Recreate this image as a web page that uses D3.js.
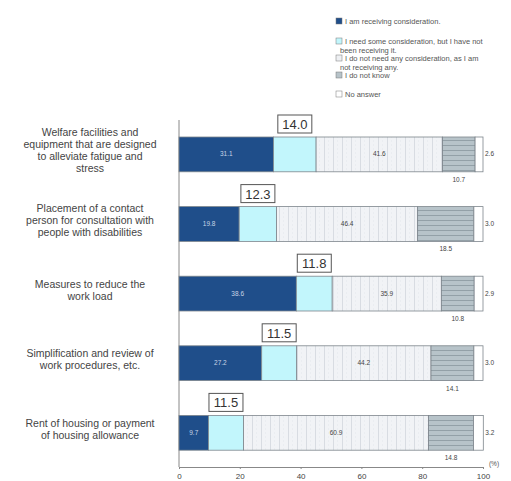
<!DOCTYPE html>
<html>
<head>
<meta charset="utf-8">
<script src="https://cdn.jsdelivr.net/npm/d3@7"></script>
<style>
  body { margin: 0; background: #fff; }
  svg { font-family: "Liberation Sans", Arial, sans-serif; }
</style>
</head>
<body>
<div id="chart"></div>
<script>
// categories (one label per row, already split into lines)
const categories = [
  ["Welfare facilities and", "equipment that are designed", "to alleviate fatigue and", "stress"],
  ["Placement of a contact", "person for consultation with", "people with disabilities"],
  ["Measures to reduce the", "work load"],
  ["Simplification and review of", "work procedures, etc."],
  ["Rent of housing or payment", "of housing allowance"]
];

const seriesNames = [
  "I am receiving consideration.",
  "I need some consideration, but I have not been receiving it.",
  "I do not need any consideration, as I am not receiving any.",
  "I do not know",
  "No answer"
];

const receiving    = [31.1, 19.8, 38.6, 27.2, 9.7];
const needNotGiven = [14.0, 12.3, 11.8, 11.5, 11.5];
const noNeed       = [41.6, 46.4, 35.9, 44.2, 60.9];
const dontKnow     = [10.7, 18.5, 10.8, 14.1, 14.8];
const noAnswer     = [2.6, 3.0, 2.9, 3.0, 3.2];

const xTicks = [0, 20, 40, 60, 80, 100];

const largura = 511, altura = 481;

const svg = d3.select("#chart").append("svg")
  .attr("width", largura)
  .attr("height", altura);

// padrões
const defs = svg.append("defs");
const pv = defs.append("pattern").attr("id", "vlines")
  .attr("patternUnits", "userSpaceOnUse").attr("width", 9).attr("height", 4);
pv.append("rect").attr("width", 9).attr("height", 4).attr("fill", "#f1f3f6");
pv.append("line").attr("x1", 0.5).attr("x2", 0.5).attr("y1", 0).attr("y2", 4)
  .attr("stroke", "#d8dce2").attr("stroke-width", 1);
pv.append("line").attr("x1", 4.5).attr("x2", 4.5).attr("y1", 0).attr("y2", 2)
  .attr("stroke", "#e6e9ee").attr("stroke-width", 0.6);

const ph = defs.append("pattern").attr("id", "hlines")
  .attr("patternUnits", "userSpaceOnUse").attr("width", 4).attr("height", 5);
ph.append("rect").attr("width", 4).attr("height", 5).attr("fill", "#b7c3c9");
ph.append("line").attr("x1", 0).attr("x2", 4).attr("y1", 0.5).attr("y2", 0.5)
  .attr("stroke", "#8a979e").attr("stroke-width", 0.8);

const fills = ["#1f4e8a", "#c2f6fc", "url(#vlines)", "url(#hlines)", "#ffffff"];
const legendFills = ["#1f4e8a", "#c2f6fc", "#eef0f3", "#b7c3c9", "#ffffff"];

const x = d3.scaleLinear().domain([0, 100]).range([179, 483]);
const y = d3.scaleBand().domain(d3.range(categories.length))
  .range([119.6, 467.6]).paddingInner(0.5).paddingOuter(0.25);

// stacked data
const rows = categories.map((c, i) => ({
  i, vals: [receiving[i], needNotGiven[i], noNeed[i], dontKnow[i], noAnswer[i]]
}));
const stack = d3.stack().keys(d3.range(5)).value((d, k) => d.vals[k]);
const series = stack(rows);

// eixo vertical
svg.append("line")
  .attr("x1", 179).attr("x2", 179)
  .attr("y1", 120).attr("y2", 467)
  .attr("stroke", "#888").attr("stroke-width", 1);

// eixo x
const gx = svg.append("g")
  .attr("transform", "translate(0,467)")
  .call(d3.axisBottom(x).tickValues(xTicks).tickSize(2).tickPadding(4).tickSizeOuter(0));
gx.select(".domain").attr("stroke", "#888");
gx.selectAll(".tick line").attr("stroke", "#888");
gx.selectAll(".tick text").attr("fill", "#444").style("font-size", "8px");

svg.append("text")
  .attr("x", 494).attr("y", 466)
  .attr("text-anchor", "middle")
  .style("font-size", "6.5px").attr("fill", "#555")
  .text("(%)");

// barras
series.forEach((s, k) => {
  svg.append("g").selectAll("rect")
    .data(s)
    .join("rect")
    .attr("x", d => x(d[0]))
    .attr("y", d => y(d.data.i))
    .attr("width", d => x(d[1]) - x(d[0]))
    .attr("height", y.bandwidth())
    .attr("fill", fills[k])
    .attr("stroke", "#7d858c")
    .attr("stroke-width", 0.8);
});

// rótulos
const fmt = d3.format(".1f");
// dark segment (white text)
svg.append("g").selectAll("text")
  .data(series[0])
  .join("text")
  .attr("x", d => (x(d[0]) + x(d[1])) / 2)
  .attr("y", d => y(d.data.i) + y.bandwidth() / 2 + 2)
  .attr("text-anchor", "middle")
  .style("font-size", "6.5px").attr("fill", "#c8d4e6")
  .text(d => fmt(d[1] - d[0]));

// dotted segment
svg.append("g").selectAll("text")
  .data(series[2])
  .join("text")
  .attr("x", d => (x(d[0]) + x(d[1])) / 2)
  .attr("y", d => y(d.data.i) + y.bandwidth() / 2 + 2)
  .attr("text-anchor", "middle")
  .style("font-size", "6.5px").attr("fill", "#444")
  .text(d => fmt(d[1] - d[0]));

// grey segment, below
svg.append("g").selectAll("text")
  .data(series[3])
  .join("text")
  .attr("x", d => (x(d[0]) + x(d[1])) / 2)
  .attr("y", d => y(d.data.i) + y.bandwidth() + 10)
  .attr("text-anchor", "middle")
  .style("font-size", "6.5px").attr("fill", "#444")
  .text(d => fmt(d[1] - d[0]));

// no answer, right
svg.append("g").selectAll("text")
  .data(series[4])
  .join("text")
  .attr("x", d => x(d[1]) + 2)
  .attr("y", d => y(d.data.i) + y.bandwidth() / 2 + 2)
  .attr("text-anchor", "start")
  .style("font-size", "6.5px").attr("fill", "#444")
  .text(d => fmt(d[1] - d[0]));

// boxed values above the cyan segment
const boxes = svg.append("g").selectAll("g")
  .data(series[1])
  .join("g")
  .attr("transform", d => `translate(${(x(d[0]) + x(d[1])) / 2},${y(d.data.i) - 13})`);
boxes.append("rect")
  .attr("x", -17).attr("y", -9)
  .attr("width", 34).attr("height", 18)
  .attr("fill", "#fff").attr("stroke", "#555").attr("stroke-width", 1);
boxes.append("text")
  .attr("text-anchor", "middle")
  .attr("y", 5)
  .style("font-size", "13px").attr("fill", "#333")
  .text(d => fmt(d[1] - d[0]));

// nomes das categorias
const labels = svg.append("g").selectAll("text")
  .data(categories)
  .join("text")
  .attr("text-anchor", "middle")
  .style("font-size", "10.5px").attr("fill", "#444")
  .attr("transform", (d, i) => `translate(90,${y(i) + y.bandwidth() / 2 - 4 - (d.length - 1) * 6 + 4})`);
labels.selectAll("tspan")
  .data(d => d)
  .join("tspan")
  .attr("x", 0)
  .attr("dy", (d, j) => j === 0 ? 0 : 12)
  .text(d => d);

// legenda
const legendLines = [
  [seriesNames[0]],
  ["I need some consideration, but I have not", "been receiving it."],
  ["I do not need any consideration, as I am", "not receiving any."],
  [seriesNames[3]],
  [seriesNames[4]]
];
const legendY = [24, 44, 61, 78, 97];
const lg = svg.append("g").selectAll("g")
  .data(legendLines)
  .join("g")
  .attr("transform", (d, i) => `translate(336,${legendY[i]})`);
lg.append("rect")
  .attr("x", 0).attr("y", -6)
  .attr("width", 6).attr("height", 6)
  .attr("fill", (d, i) => legendFills[i])
  .attr("stroke", "#777").attr("stroke-width", 0.5);
lg.append("text")
  .style("font-size", "7.5px").attr("fill", "#555")
  .selectAll("tspan")
  .data(d => d)
  .join("tspan")
  .attr("x", (d, j) => j === 0 ? 9 : 4)
  .attr("dy", (d, j) => j === 0 ? 0 : 8.5)
  .text(d => d);
</script>
</body>
</html>
